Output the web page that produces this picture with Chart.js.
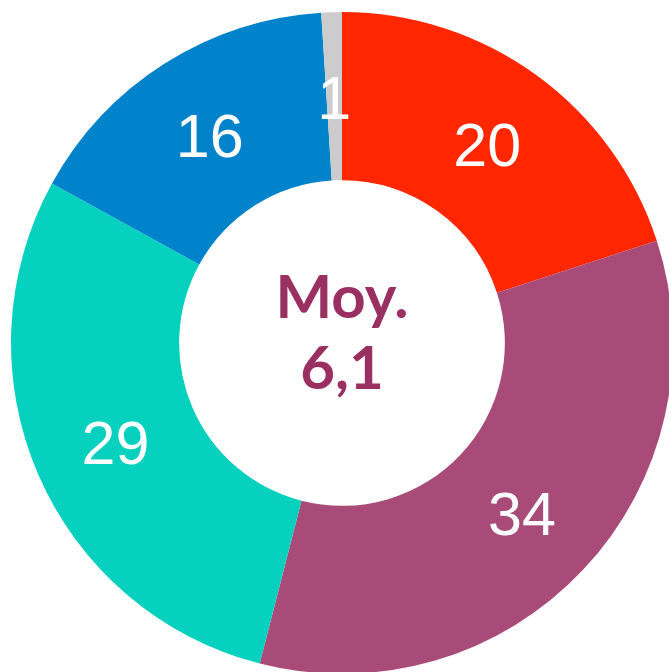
<!DOCTYPE html>
<html>
<head>
<meta charset="utf-8">
<script src="https://cdn.jsdelivr.net/npm/chart.js@4"></script>
<style>
  html, body { margin: 0; padding: 0; background: #fff; overflow: hidden; }
  #wrap { position: absolute; left: 0; top: 0; width: 684px; height: 686px; }
</style>
</head>
<body>
<div id="wrap"><canvas id="donut"></canvas></div>
<script>
// Données du graphique
const categories = ['A', 'B', 'C', 'D', 'E'];
const values = [20, 34, 29, 16, 1];
const sliceColors = ['#FF2600', '#A94B78', '#06D0BE', '#0083CB', '#CCCCCC'];
const centerLines = ['Moy.', '6,1'];

// Étiquettes blanches au milieu de chaque part
const sliceLabels = {
    id: 'sliceLabels',
    afterDatasetsDraw(chart) {
        const ctx = chart.ctx;
        const meta = chart.getDatasetMeta(0);
        ctx.save();
        ctx.fillStyle = '#FFFFFF';
        ctx.font = '61px "Liberation Sans", Arial, sans-serif';
        ctx.textAlign = 'center';
        ctx.textBaseline = 'middle';
        meta.data.forEach((arc, i) => {
            const p = arc.tooltipPosition();
            ctx.fillText(String(values[i]), p.x, p.y + 6);
        });
        ctx.restore();
    }
};

// Texte central
const centerText = {
    id: 'centerText',
    afterDatasetsDraw(chart) {
        const ctx = chart.ctx;
        const arc = chart.getDatasetMeta(0).data[0];
        ctx.save();
        ctx.fillStyle = '#9A3062';
        ctx.font = 'bold 60px Lato, "Noto Sans", sans-serif';
        ctx.textAlign = 'center';
        ctx.textBaseline = 'middle';
        ctx.fillText(centerLines[0], arc.x, arc.y - 44);
        ctx.fillText(centerLines[1], arc.x, arc.y + 27);
        ctx.restore();
    }
};

new Chart(document.getElementById('donut'), {
    type: 'doughnut',
    data: {
        labels: categories,
        datasets: [{
            data: values,
            backgroundColor: sliceColors,
            borderWidth: 0,
            hoverOffset: 0
        }]
    },
    options: {
        responsive: true,
        maintainAspectRatio: false,
        animation: false,
        cutout: '49.2%',
        layout: { padding: 11 },
        plugins: {
            legend: { display: false },
            tooltip: { enabled: false }
        }
    },
    plugins: [sliceLabels, centerText]
});
</script>
</body>
</html>
